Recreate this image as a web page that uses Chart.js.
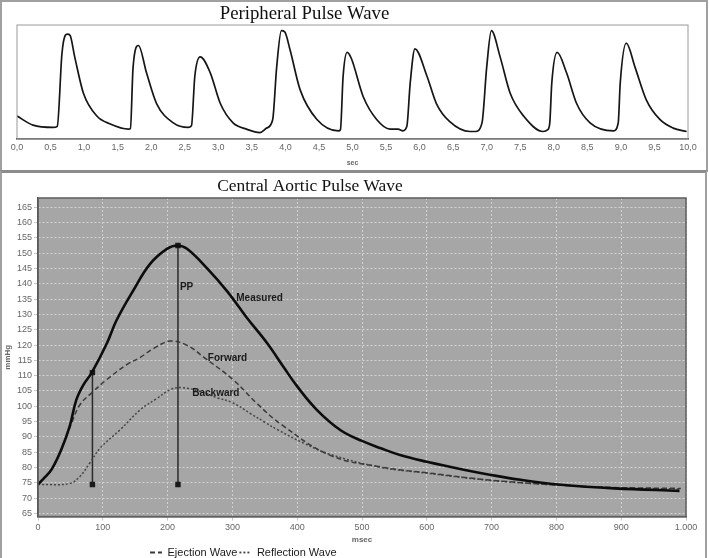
<!DOCTYPE html>
<html>
<head>
<meta charset="utf-8">
<title>Peripheral and Central Aortic Pulse Wave</title>
<script src="https://cdn.jsdelivr.net/npm/chart.js@4.4.1/dist/chart.umd.min.js"></script>
<style>
  html, body { margin: 0; padding: 0; background: #fff; }
  #page { position: relative; width: 709px; height: 558px; overflow: hidden; background: #fff; }
  .panel { position: absolute; box-sizing: border-box; border: 2px solid #a0a0a0; }
  #topPanel { left: 0; top: 0; width: 708px; height: 172px; }
  #botPanel { left: 0; top: 170px; width: 707px; height: 400px; border-top: 3px solid #8c8c8c; }
  canvas { position: absolute; left: 0; }
  #peripheral { top: 0; }
  #aortic { top: 173px; }
</style>
</head>
<body>
<div id="page">
  <div class="panel" id="topPanel"></div>
  <div class="panel" id="botPanel"></div>
  <canvas id="peripheral" width="709" height="171"></canvas>
  <canvas id="aortic" width="709" height="395"></canvas>
</div>
<script>
// peripheral pulse, time in sec and amplitude (arbitrary units, 0..100)
const pulseSec = [0.00, 0.24, 0.54, 0.60, 0.67, 0.72, 0.75, 0.79, 0.86, 0.99, 1.19, 1.39, 1.66,
  1.69, 1.73, 1.81, 1.93, 2.08, 2.33, 2.55,
  2.60, 2.65, 2.73, 2.88, 3.03, 3.22, 3.42, 3.62,
  3.72, 3.81, 3.87, 3.94, 3.99, 4.07, 4.22, 4.47, 4.79,
  4.82, 4.86, 4.92, 4.98, 5.16, 5.36, 5.56, 5.68, 5.75,
  5.81, 5.86, 5.93, 6.11, 6.25, 6.45, 6.75, 6.83,
  6.93, 7.00, 7.07, 7.20, 7.35, 7.55, 7.84,
  7.91, 7.94, 7.97, 8.05, 8.19, 8.34, 8.54, 8.89,
  8.96, 8.99, 9.08, 9.21, 9.38, 9.58, 9.78, 9.98];
const pulseAmp = [20, 12, 10, 11, 75, 91, 92, 91, 72, 40, 20, 13, 8.5,
  9, 63, 82, 58, 31, 14, 10,
  11.4, 55, 72, 58, 31, 14, 8.5, 5.5,
  9.4, 16.7, 63, 95, 94, 78, 43, 17, 7,
  8, 55, 76, 71, 37, 17, 8.5, 8.5, 7,
  11, 49, 79, 55, 31, 15, 6.4, 6.4,
  14, 63, 95, 72, 40, 20, 6.4,
  8, 14, 49, 76, 58, 31, 14, 7,
  14, 49, 84, 63, 34, 17, 9.4, 6.4];

// central aortic pulse, msec and mmHg
const measuredMs   = [0, 10, 21, 36, 49, 59, 70, 83, 106, 121, 147, 173, 199, 215, 230, 261, 292, 322, 354, 380, 400, 431, 467, 500, 529, 560, 600, 657, 699, 745, 807, 889, 990];
const measuredMmHg = [74.5, 76.7, 79.4, 85.9, 93.5, 102, 107, 111, 120.4, 128, 137.8, 146.5, 151.4, 152.5, 151.4, 145, 137.5, 129, 120.5, 112.5, 106.5, 98.7, 92.2, 88.7, 86.3, 84, 81.9, 79.3, 77.6, 76, 74.4, 73.2, 72.4];

const ejectionMs   = [0, 21, 36, 52, 65, 83, 106, 137, 158, 178, 204, 230, 256, 302, 338, 376, 451, 529, 600, 699, 802, 889, 992];
const ejectionMmHg = [74.5, 79.4, 85.9, 94.6, 100.6, 104.4, 108.7, 113.6, 116, 118.8, 121.3, 119.9, 116, 108.5, 100.9, 94, 84, 80.2, 78.3, 75.9, 74.3, 73.5, 73.2];

const reflectionMs   = [0, 49, 65, 80, 96, 127, 158, 183, 204, 222, 251, 276, 300, 328, 350, 371, 410, 451, 529, 600, 699, 802, 889, 992];
const reflectionMmHg = [74.5, 74.8, 77.2, 81.5, 86.4, 92.4, 98.9, 102.5, 105.4, 106.1, 104.8, 102.8, 101.2, 97.6, 94.8, 92.2, 88, 84.3, 80.1, 78.2, 75.8, 74.3, 73.4, 73];

const ppMs   = [84, 216];
const ppLow  = [74.5, 74.5];
const ppHigh = [111, 152.5];

const pressureTicks = [65, 70, 75, 80, 85, 90, 95, 100, 105, 110, 115, 120, 125, 130, 135, 140, 145, 150, 155, 160, 165];
const legendNames = ['Ejection Wave', 'Reflection Wave'];

const notes = [
  { text: 'PP', x: 219, y: 138.7 },
  { text: 'Measured', x: 306, y: 135.3 },
  { text: 'Forward', x: 262, y: 115.6 },
  { text: 'Backward', x: 238, y: 104.4 }
];

function pts(xs, ys) { return xs.map((x, i) => ({ x: x, y: ys[i] })); }

// plot background + frame
const plotFrame = {
  id: 'plotFrame',
  beforeDraw(chart, args, opts) {
    const a = chart.chartArea, ctx = chart.ctx;
    if (opts.fill) {
      ctx.save();
      ctx.fillStyle = opts.fill;
      ctx.fillRect(a.left, a.top, a.right - a.left, a.bottom - a.top);
      ctx.restore();
    }
  },
  afterDraw(chart, args, opts) {
    const a = chart.chartArea, ctx = chart.ctx;
    ctx.save();
    ctx.strokeStyle = opts.color || '#888';
    ctx.lineWidth = opts.width || 1;
    ctx.strokeRect(a.left, a.top, a.right - a.left, a.bottom - a.top);
    ctx.restore();
  }
};

// move title / legend sideways
const nudge = {
  id: 'nudge',
  afterLayout(chart, args, opts) {
    if (opts.titleX && chart.titleBlock) {
      chart.titleBlock.left += opts.titleX;
      chart.titleBlock.right += opts.titleX;
    }
    if (opts.legendX && chart.legend) {
      chart.legend.left += opts.legendX;
      chart.legend.right += opts.legendX;
    }
  }
};

// curve names written on the plot
const curveNotes = {
  id: 'curveNotes',
  afterDatasetsDraw(chart) {
    const ctx = chart.ctx, sx = chart.scales.x, sy = chart.scales.y;
    ctx.save();
    ctx.font = 'bold 10px "Liberation Sans", Arial, sans-serif';
    ctx.fillStyle = '#1a1a1a';
    ctx.textAlign = 'left';
    ctx.textBaseline = 'middle';
    notes.forEach(n => ctx.fillText(n.text, sx.getPixelForValue(n.x), sy.getPixelForValue(n.y)));
    ctx.restore();
  }
};

const tickFont = { family: '"Liberation Sans", Arial, sans-serif', size: 9 };
const serif = '"Liberation Serif", "Times New Roman", serif';

new Chart(document.getElementById('peripheral'), {
  type: 'line',
  data: {
    datasets: [{
      label: 'Peripheral',
      data: pts(pulseSec, pulseAmp),
      borderColor: '#161616',
      borderWidth: 1.7,
      pointRadius: 0,
      cubicInterpolationMode: 'monotone'
    }]
  },
  options: {
    responsive: false,
    animation: false,
    layout: { padding: { left: 17, right: 21, top: 0, bottom: 2 } },
    plugins: {
      legend: { display: false },
      tooltip: { enabled: false },
      title: {
        display: true,
        text: 'Peripheral Pulse Wave',
        color: '#111',
        font: { family: serif, size: 18.8, weight: 'normal', lineHeight: 1.15 },
        padding: { top: 3, bottom: 0.4 }
      },
      plotFrame: { color: '#9a9a9a', width: 1 },
      nudge: { titleX: -48 }
    },
    scales: {
      x: {
        type: 'linear',
        min: 0,
        max: 10,
        grid: { display: false, drawTicks: false },
        border: { display: true, color: '#333', width: 1.5 },
        ticks: {
          stepSize: 0.5,
          autoSkip: false,
          maxRotation: 0,
          padding: 3,
          color: '#666',
          font: tickFont,
          callback: v => v.toFixed(1).replace('.', ',')
        },
        title: {
          display: true,
          text: 'sec',
          color: '#666',
          font: { family: '"Liberation Sans", Arial, sans-serif', size: 7, weight: 'bold' },
          padding: { top: 3, bottom: 2 }
        }
      },
      y: { display: false, min: 0, max: 100 }
    }
  },
  plugins: [plotFrame, nudge]
});

new Chart(document.getElementById('aortic'), {
  type: 'line',
  data: {
    datasets: [
      {
        label: 'Measured',
        data: pts(measuredMs, measuredMmHg),
        borderColor: '#0d0d0d',
        borderWidth: 2.6,
        pointRadius: 0,
        tension: 0.4
      },
      {
        label: 'Ejection Wave',
        data: pts(ejectionMs, ejectionMmHg),
        borderColor: '#3a3a3a',
        borderWidth: 1.5,
        borderDash: [5, 3],
        pointRadius: 0,
        tension: 0.4
      },
      {
        label: 'Reflection Wave',
        data: pts(reflectionMs, reflectionMmHg),
        borderColor: '#444',
        borderWidth: 1.5,
        borderDash: [2, 2],
        pointRadius: 0,
        tension: 0.4
      },
      {
        label: 'PP',
        data: [{ x: ppMs[0], y: ppLow[0] }, { x: ppMs[0], y: ppHigh[0] }],
        borderColor: '#2a2a2a',
        borderWidth: 1.5,
        pointStyle: 'rect',
        pointRadius: 2.8,
        pointBackgroundColor: '#1a1a1a',
        pointBorderColor: '#1a1a1a'
      },
      {
        label: 'PP',
        data: [{ x: ppMs[1], y: ppLow[1] }, { x: ppMs[1], y: ppHigh[1] }],
        borderColor: '#2a2a2a',
        borderWidth: 1.5,
        pointStyle: 'rect',
        pointRadius: 2.8,
        pointBackgroundColor: '#1a1a1a',
        pointBorderColor: '#1a1a1a'
      }
    ]
  },
  options: {
    responsive: false,
    animation: false,
    layout: { padding: { left: 0, right: 23, top: 0, bottom: 0 } },
    plugins: {
      tooltip: { enabled: false },
      title: {
        display: true,
        text: 'Central Aortic Pulse Wave',
        color: '#111',
        font: { family: serif, size: 17.4, weight: 'normal', lineHeight: 1.2 },
        padding: { top: 2.5, bottom: 1.6 }
      },
      legend: {
        display: true,
        position: 'bottom',
        align: 'start',
        labels: {
          generateLabels: chart => Chart.defaults.plugins.legend.labels.generateLabels(chart)
            .filter(item => legendNames.includes(item.text))
            .map(item => Object.assign(item, { lineDash: chart.data.datasets[item.datasetIndex].borderDash, lineWidth: 1.8 })),
          usePointStyle: true,
          pointStyle: 'line',
          pointStyleWidth: 12,
          padding: 2,
          color: '#1a1a1a',
          font: { family: '"Liberation Sans", Arial, sans-serif', size: 11 }
        }
      },
      plotFrame: { fill: '#a6a6a6', color: '#5e5e5e', width: 1.5 },
      nudge: { titleX: -33, legendX: 148 }
    },
    scales: {
      x: {
        type: 'linear',
        min: 0,
        max: 1000,
        grid: { color: '#d2d2d2', lineWidth: 1, tickLength: 4, tickColor: '#c8c8c8' },
        border: { display: true, color: '#4a4a4a', width: 1.5, dash: [2, 2] },
        ticks: {
          stepSize: 100,
          autoSkip: false,
          maxRotation: 0,
          padding: 2,
          color: '#666',
          font: tickFont,
          callback: v => String(v).replace(/\B(?=(\d{3})+(?!\d))/g, '.')
        },
        title: {
          display: true,
          text: 'msec',
          color: '#666',
          font: { family: '"Liberation Sans", Arial, sans-serif', size: 8, weight: 'bold' },
          padding: { top: 0, bottom: 0 }
        }
      },
      y: {
        type: 'linear',
        min: 64,
        max: 168,
        afterBuildTicks: scale => { scale.ticks = pressureTicks.map(v => ({ value: v })); },
        afterFit: scale => { scale.width = 38; },
        grid: { color: '#d2d2d2', lineWidth: 1, tickLength: 4, tickColor: '#c8c8c8' },
        border: { display: true, color: '#4a4a4a', width: 1.5, dash: [2, 2] },
        ticks: { padding: 2, color: '#666', font: tickFont },
        title: {
          display: true,
          text: 'mmHg',
          color: '#666',
          font: { family: '"Liberation Sans", Arial, sans-serif', size: 8, weight: 'bold' },
          padding: { top: 3, bottom: 0 }
        }
      }
    }
  },
  plugins: [plotFrame, nudge, curveNotes]
});
</script>
</body>
</html>
